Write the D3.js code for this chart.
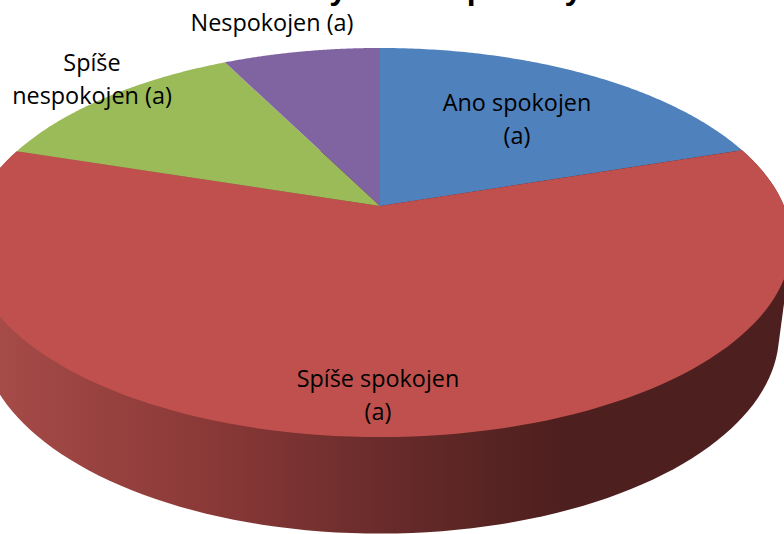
<!DOCTYPE html>
<html>
<head>
<meta charset="utf-8">
<script src="https://cdn.jsdelivr.net/npm/d3@7"></script>
<style>
html, body { margin: 0; padding: 0; background: #fff; overflow: hidden; }
text { font-family: "Open Sans", "Noto Sans", sans-serif; fill: #000; }
</style>
</head>
<body>
<svg></svg>
<script>
let width = 784
let height = 534
let svg = d3.select('svg')
    .attr('width', width)
    .attr('height', height)
    .style('display', 'block')

let categories = ['Ano spokojen (a)', 'Spíše spokojen (a)', 'Spíše nespokojen (a)', 'Nespokojen (a)']
let values = [19.9, 60.1, 12.6, 7.4]
let colors = ['#4f81bd', '#c0504d', '#9bbb59', '#8064a2']
let labelLines = [['Ano spokojen', '(a)'], ['Spíše spokojen', '(a)'], ['Spíše', 'nespokojen (a)'], ['Nespokojen (a)']]
let labelSpots = [[517, 111], [378, 387], [92, 71], [272, 31]]
// the reference cuts the title off at the top, only the descenders can be seen
let titleText = 'Vztahy a poměry'

// the pie is seen from above, far edge comes out smaller than the near edge
let perspective = 0.1877
let topDisc = { cx: 380, cy: 206, sx: 404, sy: 187.7 }
let bottomDisc = { cx: 380, cy: 296, sx: 392, sy: 193 }

function project(disc, a) {
    let d = 1 + perspective * Math.cos(a)
    return [
        disc.cx + disc.sx * Math.sin(a) / d,
        disc.cy - disc.sy * Math.cos(a) / d
    ]
}

function rim(disc, a0, a1) {
    return d3.range(0, 121).map(i => project(disc, a0 + (a1 - a0) * i / 120))
}

let slices = d3.pie().sort(null)(values)
let line = d3.line()

let defs = svg.append('defs')
let sideGradient = defs.append('linearGradient')
    .attr('id', 'side-gradient')
    .attr('gradientUnits', 'userSpaceOnUse')
    .attr('x1', 0).attr('x2', 560)
    .attr('y1', 0).attr('y2', 0)
sideGradient.selectAll('stop')
    .data([[0, '#a54b48'], [0.35, '#8c3a38'], [0.7, '#672b2a'], [1, '#4d1f1e']])
    .enter().append('stop')
    .attr('offset', d => d[0])
    .attr('stop-color', d => d[1])

svg.append('text')
    .attr('x', 244)
    .attr('y', -1)
    .style('font-size', '32px')
    .style('font-weight', 700)
    .style('font-family', '"Liberation Sans", sans-serif')
    .style('word-spacing', '42px')
    .text(titleText)

// only the big red slice shows its side, hull gives the straight tangent edges
let red = slices[1]
let sideHull = d3.polygonHull(rim(topDisc, red.startAngle, red.endAngle)
    .concat(rim(bottomDisc, red.startAngle, red.endAngle)))
svg.append('path')
    .attr('d', line(sideHull) + 'Z')
    .attr('fill', 'url(#side-gradient)')

svg.selectAll('.slice')
    .data(slices).enter()
    .append('path')
    .attr('class', 'slice')
    .attr('fill', (d, i) => colors[i])
    .attr('d', d => line([[topDisc.cx, topDisc.cy]].concat(rim(topDisc, d.startAngle, d.endAngle))) + 'Z')

let labels = svg.selectAll('.label')
    .data(categories).enter()
    .append('text')
    .attr('class', 'label')
    .attr('text-anchor', 'middle')
    .style('font-size', '23.4px')
labels.selectAll('tspan')
    .data((d, i) => labelLines[i].map(t => ({ t, i })))
    .enter().append('tspan')
    .attr('x', d => labelSpots[d.i][0])
    .attr('y', (d, j) => labelSpots[d.i][1] + j * 33)
    .text(d => d.t)
</script>
</body>
</html>
